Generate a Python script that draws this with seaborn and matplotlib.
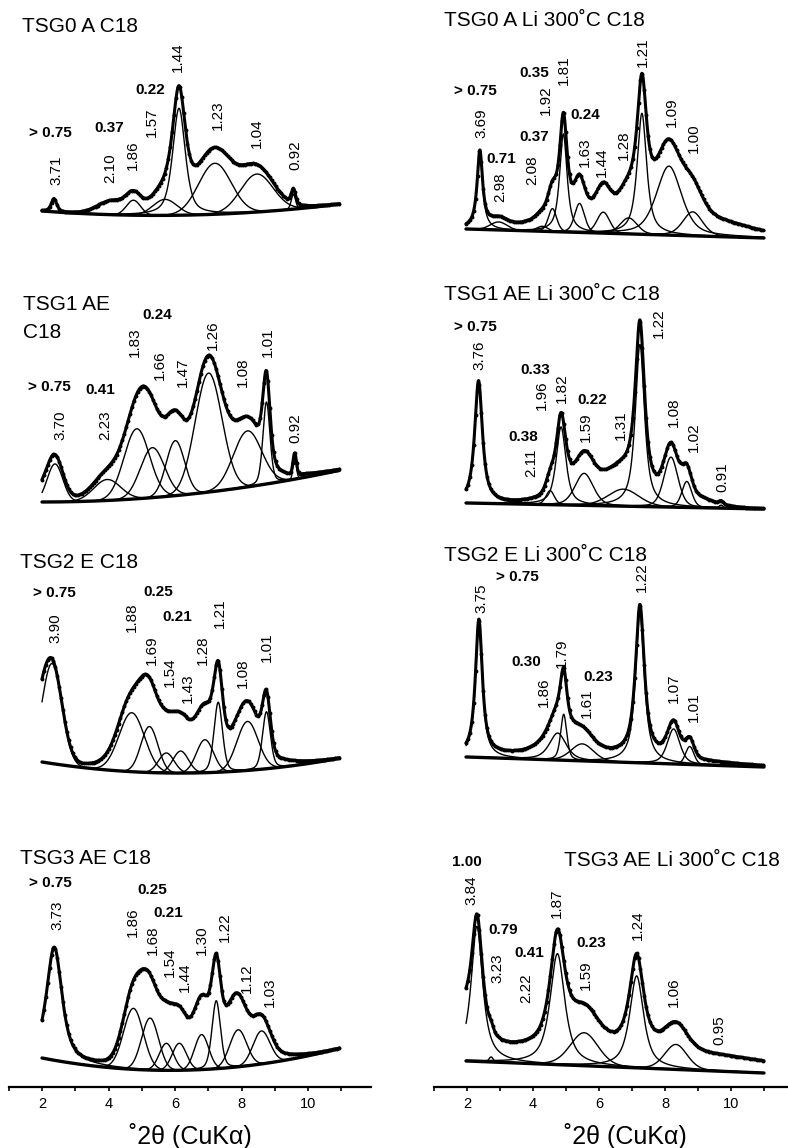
import numpy as np
import pandas as pd
import matplotlib
matplotlib.use("Agg")
import matplotlib.pyplot as plt
import seaborn as sns

# ---------------------------------------------------------------- data
# Each panel: fitted peak components (centre in deg 2theta, height, FWHM,
# Lorentzian fraction, drawn or not) and a baseline given at 2, 6.5, 11 deg.
base_x = [2.0, 6.5, 11.0]

# TSG0 A C18
l0_centre = [2.36, 4.10, 4.75, 5.70, 6.12, 7.20, 8.46, 9.56, 7.00]
l0_height = [13, 12, 15, 16, 107, 51, 38, 15, 12]
l0_fwhm = [0.20, 1.00, 0.50, 0.85, 0.45, 1.15, 1.15, 0.15, 3.50]
l0_eta = [0.5, 0, 0, 0, 0.6, 0, 0, 0.3, 0]
l0_shown = [0, 0, 1, 1, 1, 1, 1, 1, 0]
l0_base = [29, 25, 36]

# TSG0 A Li 300C C18
r0_centre = [2.39, 2.96, 4.28, 4.59, 4.92, 5.41, 6.13, 6.90, 7.30, 8.12, 8.84, 6.00, 9.00]
r0_height = [77, 8, 5, 23, 98, 29, 21, 16, 121, 69, 24, 22, 15]
r0_fwhm = [0.20, 0.60, 0.40, 0.30, 0.27, 0.35, 0.45, 0.60, 0.34, 0.90, 0.70, 3.50, 3.50]
r0_eta = [1.0, 0, 0, 0.3, 0.8, 0.3, 0.2, 0.2, 0.8, 0.5, 0.3, 0, 0]
r0_shown = [1, 1, 1, 1, 1, 1, 1, 1, 1, 1, 1, 0, 0]
r0_base = [11, 6.5, 2]

# TSG1 AE C18
l1_centre = [2.39, 3.96, 4.85, 5.32, 6.01, 7.01, 8.18, 8.75, 9.60, 6.50, 2.00]
l1_height = [38, 21, 70, 50, 55, 119, 56, 82, 21, 17, 12]
l1_fwhm = [0.55, 0.95, 0.90, 0.85, 0.65, 0.95, 1.00, 0.25, 0.12, 4.50, 1.00]
l1_eta = [0, 0, 0, 0, 0, 0, 0, 0.3, 0, 0, 0]
l1_shown = [1, 1, 1, 1, 1, 1, 1, 1, 1, 0, 0]
l1_base = [13, 21, 45]

# TSG1 AE Li 300C C18
r1_centre = [2.35, 4.52, 4.85, 5.55, 6.74, 7.24, 8.18, 8.66, 9.70, 6.20, 8.80]
r1_height = [122, 14, 78, 32, 17, 162, 50, 26, 3, 20, 8]
r1_fwhm = [0.28, 0.30, 0.35, 0.65, 1.10, 0.33, 0.50, 0.35, 0.15, 2.60, 1.50]
r1_eta = [0.9, 0.3, 0.7, 0.3, 0.2, 0.8, 0.3, 0.3, 0, 0, 0]
r1_shown = [1, 1, 1, 1, 1, 1, 1, 1, 1, 0, 0]
r1_base = [12, 9, 6]

# TSG2 E C18
l2_centre = [2.30, 4.70, 5.23, 5.74, 6.17, 6.90, 7.30, 8.18, 8.75, 6.50, 1.90]
l2_height = [100, 59, 46, 20, 22, 33, 70, 49, 57, 35, 25]
l2_fwhm = [0.70, 0.90, 0.60, 0.55, 0.55, 0.60, 0.30, 0.75, 0.28, 3.60, 0.50]
l2_eta = [0, 0, 0, 0, 0, 0, 0.3, 0, 0.3, 0, 0]
l2_shown = [1, 1, 1, 1, 1, 1, 1, 1, 1, 0, 0]
l2_base = [23, 12, 27]

# TSG2 E Li 300C C18
r2_centre = [2.36, 4.75, 4.93, 5.49, 7.24, 8.26, 8.75, 4.80, 6.00]
r2_height = [135, 27, 46, 17, 150, 35, 18, 14, 8]
r2_fwhm = [0.25, 0.60, 0.22, 0.80, 0.32, 0.45, 0.30, 1.20, 6.00]
r2_eta = [0.9, 0.6, 0.5, 0.2, 0.85, 0.5, 0.2, 0, 0]
r2_shown = [1, 1, 1, 1, 1, 1, 1, 0, 0]
r2_base = [28, 23, 18]

# TSG3 AE C18
l3_centre = [2.37, 4.75, 5.25, 5.74, 6.13, 6.80, 7.24, 7.90, 8.60, 6.80, 7.60, 5.00]
l3_height = [113, 61, 52, 27, 27, 35, 68, 37, 33, 35, 12, 10]
l3_fwhm = [0.55, 0.70, 0.60, 0.50, 0.50, 0.50, 0.30, 0.60, 0.60, 3.20, 1.00, 1.00]
l3_eta = [0.7, 0, 0, 0, 0, 0, 0.3, 0, 0, 0, 0, 0]
l3_shown = [1, 1, 1, 1, 1, 1, 1, 1, 1, 0, 0, 0]
l3_base = [29, 17, 39]

# TSG3 AE Li 300C C18
r3_centre = [2.30, 2.73, 4.74, 5.55, 7.14, 8.33, 7.00, 1.90]
r3_height = [135, 5, 111, 33, 92, 25, 20, 28]
r3_fwhm = [0.42, 0.15, 0.53, 1.00, 0.50, 0.80, 9.00, 0.40]
r3_eta = [0.9, 0, 0.8, 0.2, 0.8, 0.2, 0, 0]
r3_shown = [1, 1, 1, 1, 1, 1, 0, 0]
r3_base = [26, 20, 14]

x_ticks = [2, 4, 6, 8, 10]
x_label = "˚2θ (CuKα)"

# ------------------------------------------------------------ layout
W, H = 788, 1148
sns.set_theme(style="white")
plt.rcParams['font.family'] = ['Liberation Sans', 'DejaVu Sans']
plt.rcParams['text.color'] = 'black'
plt.rcParams['axes.labelcolor'] = 'black'
plt.rcParams['xtick.color'] = 'black'
plt.rcParams['xtick.labelcolor'] = 'black'
fig = plt.figure(figsize=(W / 100, H / 100), dpi=100)

col_left = {0: 8.75, 1: 434.0}
col_ppu = {0: 33.25, 1: 33.0}
XMIN, XMAX = 1.0, 11.9
row_bottom = [240, 515, 785, 1087]
BAND = 240

panels = [
    dict(row=0, col=0, c=l0_centre, h=l0_height, w=l0_fwhm, e=l0_eta, s=l0_shown, b=l0_base,
         title=[("TSG0 A C18", 22, 26)],
         rot=[("3.71", 56, 185), ("2.10", 110, 183), ("1.86", 133, 170), ("1.57", 152, 137),
              ("1.44", 178, 72), ("1.23", 218, 130), ("1.04", 257, 148), ("0.92", 295, 170)],
         bold=[("> 0.75", 50, 133), ("0.37", 109, 128), ("0.22", 150, 90)]),
    dict(row=0, col=1, c=r0_centre, h=r0_height, w=r0_fwhm, e=r0_eta, s=r0_shown, b=r0_base,
         title=[("TSG0 A Li 300˚C C18", 444, 21)],
         rot=[("3.69", 481, 138), ("2.98", 500, 202), ("2.08", 532, 185), ("1.92", 546, 115),
              ("1.81", 564, 85), ("1.63", 585, 167), ("1.44", 602, 177), ("1.28", 624, 160),
              ("1.21", 643, 67), ("1.09", 672, 127), ("1.00", 694, 153)],
         bold=[("> 0.75", 475, 91), ("0.35", 534, 73), ("0.37", 534, 137), ("0.71", 501, 159),
               ("0.24", 585, 115)]),
    dict(row=1, col=0, c=l1_centre, h=l1_height, w=l1_fwhm, e=l1_eta, s=l1_shown, b=l1_base,
         title=[("TSG1 AE", 23, 305), ("C18", 23, 333)],
         rot=[("3.70", 60, 440), ("2.23", 105, 440), ("1.83", 135, 357), ("1.66", 160, 380),
              ("1.47", 183, 387), ("1.26", 213, 350), ("1.08", 243, 387), ("1.01", 268, 357),
              ("0.92", 295, 443)],
         bold=[("> 0.75", 49, 387), ("0.41", 100, 390), ("0.24", 157, 315)]),
    dict(row=1, col=1, c=r1_centre, h=r1_height, w=r1_fwhm, e=r1_eta, s=r1_shown, b=r1_base,
         title=[("TSG1 AE Li 300˚C C18", 444, 295)],
         rot=[("3.76", 479, 370), ("2.11", 531, 477), ("1.96", 542, 410), ("1.82", 562, 403),
              ("1.59", 586, 442), ("1.31", 621, 440), ("1.22", 659, 338), ("1.08", 674, 427),
              ("1.02", 694, 452), ("0.91", 722, 492)],
         bold=[("> 0.75", 475, 327), ("0.33", 535, 370), ("0.38", 523, 437), ("0.22", 592, 400)]),
    dict(row=2, col=0, c=l2_centre, h=l2_height, w=l2_fwhm, e=l2_eta, s=l2_shown, b=l2_base,
         title=[("TSG2 E C18", 20, 563)],
         rot=[("3.90", 55, 643), ("1.88", 132, 632), ("1.69", 152, 665), ("1.54", 170, 687),
              ("1.43", 188, 703), ("1.28", 203, 665), ("1.21", 220, 628), ("1.08", 243, 688),
              ("1.01", 267, 662)],
         bold=[("> 0.75", 54, 593), ("0.25", 158, 592), ("0.21", 177, 617)]),
    dict(row=2, col=1, c=r2_centre, h=r2_height, w=r2_fwhm, e=r2_eta, s=r2_shown, b=r2_base,
         title=[("TSG2 E Li 300˚C C18", 444, 555)],
         rot=[("3.75", 481, 613), ("1.86", 544, 707), ("1.79", 562, 668), ("1.61", 587, 718),
              ("1.22", 642, 592), ("1.07", 674, 703), ("1.01", 694, 722)],
         bold=[("> 0.75", 517, 577), ("0.30", 526, 662), ("0.23", 598, 677)]),
    dict(row=3, col=0, c=l3_centre, h=l3_height, w=l3_fwhm, e=l3_eta, s=l3_shown, b=l3_base,
         title=[("TSG3 AE C18", 20, 859)],
         rot=[("3.73", 57, 930), ("1.86", 133, 937), ("1.68", 153, 955), ("1.54", 170, 977),
              ("1.44", 185, 992), ("1.30", 202, 955), ("1.22", 225, 942), ("1.12", 247, 993),
              ("1.03", 270, 1007)],
         bold=[("> 0.75", 50, 883), ("0.25", 152, 890), ("0.21", 168, 913)]),
    dict(row=3, col=1, c=r3_centre, h=r3_height, w=r3_fwhm, e=r3_eta, s=r3_shown, b=r3_base,
         title=[("TSG3 AE Li 300˚C C18", 564, 861)],
         rot=[("3.84", 471, 905), ("3.23", 497, 983), ("2.22", 526, 1003), ("1.87", 557, 918),
              ("1.59", 586, 990), ("1.24", 638, 940), ("1.06", 674, 1007), ("0.95", 719, 1045)],
         bold=[("1.00", 467, 862), ("0.79", 503, 930), ("0.41", 529, 953), ("0.23", 591, 943)]),
]

x_range = {0: (2.0, 10.95), 1: (1.97, 11.0)}


def profile(x, c, w, eta):
    u = (x - c) / w
    g = np.exp(-4 * np.log(2) * u ** 2)
    lor = 1.0 / (1.0 + 4 * u ** 2)
    return eta * lor + (1 - eta) * g


def ftx(px):
    return px / W


def fty(py):
    return 1 - py / H


for p in panels:
    col, row = p['col'], p['row']
    left = col_left[col]
    width = (XMAX - XMIN) * col_ppu[col]
    bottom = row_bottom[row]
    ax = fig.add_axes([ftx(left), fty(bottom), width / W, BAND / H])
    ax.patch.set_alpha(0)

    xs = np.linspace(*x_range[col], 1400)
    coef = np.polyfit(base_x, p['b'], 2)
    base = np.polyval(coef, xs)

    total = base.copy()
    rows = []
    for k, (c, h, w, e, s) in enumerate(zip(p['c'], p['h'], p['w'], p['e'], p['s'])):
        comp = h * profile(xs, c, w, e)
        total = total + comp
        if s:
            rows.append(pd.DataFrame({'x': xs, 'y': base + comp, 'comp': k}))
    comps = pd.concat(rows, ignore_index=True)

    # component curves
    sns.lineplot(data=comps, x='x', y='y', units='comp', estimator=None, sort=False,
                 color='black', lw=1.0, ax=ax, legend=False)
    # baseline
    sns.lineplot(x=xs, y=base, color='black', lw=2.4, ax=ax, sort=False, estimator=None)
    # measured pattern (dotted, thick)
    sns.lineplot(x=xs, y=total, color='black', lw=2.2, ax=ax, sort=False, estimator=None,
                 marker='o', markersize=2.8, markevery=9, markeredgewidth=0)

    ax.set_xlim(XMIN, XMAX)
    ax.set_ylim(0, BAND)
    ax.set_ylabel('')
    ax.set_yticks([])
    for side in ['left', 'right', 'top']:
        ax.spines[side].set_visible(False)
    if row == 3:
        ax.spines['bottom'].set_visible(True)
        ax.spines['bottom'].set_linewidth(1.6)
        ax.spines['bottom'].set_color('black')
        ax.set_xticks(x_ticks)
        ax.set_xticks(range(1, 12), minor=True)
        ax.tick_params(axis='x', which='both', direction='out', length=3, width=1.2,
                       color='black', labelcolor='black', bottom=True, labelsize=10.5, pad=4)
        ax.tick_params(axis='x', which='minor', length=3)
        ax.set_xlabel(x_label, fontsize=18, color='black')
        ax.xaxis.set_label_coords(0.5 if col == 0 else 0.531, -0.148)
    else:
        ax.spines['bottom'].set_visible(False)
        ax.set_xticks([])
        ax.set_xlabel('')

    for (t, px, py) in p['title']:
        fig.text(ftx(px), fty(py), t, fontsize=15, ha='left', va='center', color='black')
    for (t, px, py) in p['rot']:
        fig.text(ftx(px), fty(py), t, fontsize=11, rotation=90, ha='center', va='bottom',
                 color='black')
    for (t, px, py) in p['bold']:
        fig.text(ftx(px), fty(py), t, fontsize=11, fontweight='bold', ha='center',
                 va='center', color='black')

fig.savefig('out.png', dpi=100)
